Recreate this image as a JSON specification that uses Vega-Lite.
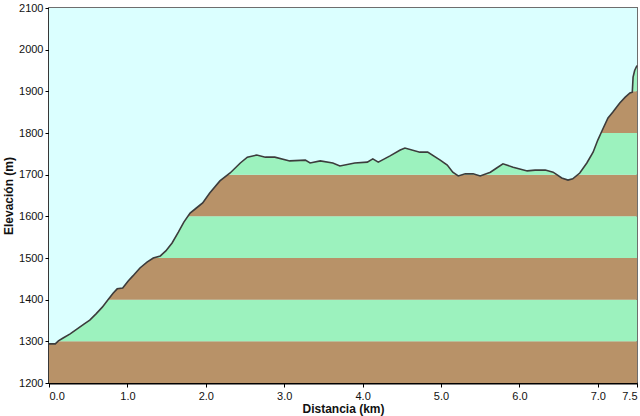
{
  "$schema": "https://vega.github.io/schema/vega-lite/v6.json",
  "autosize": {"type": "none"},
  "width": 588,
  "height": 375,
  "padding": {"left": 49, "top": 8, "right": 3, "bottom": 33},
  "background": "#ffffff",
  "config": {
    "view": {"fill": "#DBFFFF", "stroke": "#6e6e6e", "strokeWidth": 2},
    "font": "Liberation Sans",
    "axis": {
      "domainColor": "#000000", "domainWidth": 2, "tickColor": "#000000", "tickSize": 4,
      "labelFont": "Liberation Sans", "labelFontSize": 11, "labelColor": "#111111",
      "titleFont": "Liberation Sans", "titleFontSize": 12, "titleFontWeight": "bold", "titleColor": "#111111",
      "grid": false
    }
  },
  "datasets": {
    "bands": [
      {"lo": 1200, "hi": 1300, "kind": "brown"},
      {"lo": 1300, "hi": 1400, "kind": "green"},
      {"lo": 1400, "hi": 1500, "kind": "brown"},
      {"lo": 1500, "hi": 1600, "kind": "green"},
      {"lo": 1600, "hi": 1700, "kind": "brown"},
      {"lo": 1700, "hi": 1800, "kind": "green"},
      {"lo": 1800, "hi": 1900, "kind": "brown"},
      {"lo": 1900, "hi": 2000, "kind": "green"},
      {"lo": 2000, "hi": 2100, "kind": "brown"}
    ],
    "profile": [
      {"km": 0.0, "elev": 1294}, {"km": 0.08, "elev": 1294}, {"km": 0.12, "elev": 1301},
      {"km": 0.18, "elev": 1308}, {"km": 0.27, "elev": 1318}, {"km": 0.36, "elev": 1330},
      {"km": 0.45, "elev": 1342}, {"km": 0.52, "elev": 1351}, {"km": 0.6, "elev": 1366},
      {"km": 0.68, "elev": 1382}, {"km": 0.75, "elev": 1399}, {"km": 0.82, "elev": 1416},
      {"km": 0.87, "elev": 1426}, {"km": 0.94, "elev": 1428}, {"km": 1.01, "elev": 1445},
      {"km": 1.07, "elev": 1457}, {"km": 1.16, "elev": 1476}, {"km": 1.25, "elev": 1490},
      {"km": 1.33, "elev": 1500}, {"km": 1.42, "elev": 1505}, {"km": 1.49, "elev": 1517},
      {"km": 1.57, "elev": 1536}, {"km": 1.65, "elev": 1562}, {"km": 1.72, "elev": 1586},
      {"km": 1.8, "elev": 1608}, {"km": 1.88, "elev": 1620}, {"km": 1.96, "elev": 1632},
      {"km": 2.05, "elev": 1656}, {"km": 2.18, "elev": 1685}, {"km": 2.31, "elev": 1704},
      {"km": 2.44, "elev": 1728}, {"km": 2.53, "elev": 1742}, {"km": 2.65, "elev": 1747},
      {"km": 2.76, "elev": 1742}, {"km": 2.88, "elev": 1742}, {"km": 3.07, "elev": 1733},
      {"km": 3.27, "elev": 1735}, {"km": 3.33, "elev": 1728}, {"km": 3.46, "elev": 1733},
      {"km": 3.62, "elev": 1728}, {"km": 3.71, "elev": 1721}, {"km": 3.9, "elev": 1728},
      {"km": 4.06, "elev": 1730}, {"km": 4.13, "elev": 1738}, {"km": 4.2, "elev": 1730},
      {"km": 4.35, "elev": 1745}, {"km": 4.48, "elev": 1759}, {"km": 4.54, "elev": 1764},
      {"km": 4.73, "elev": 1754}, {"km": 4.83, "elev": 1754}, {"km": 4.99, "elev": 1735},
      {"km": 5.08, "elev": 1723}, {"km": 5.15, "elev": 1706}, {"km": 5.22, "elev": 1697},
      {"km": 5.31, "elev": 1702}, {"km": 5.41, "elev": 1702}, {"km": 5.5, "elev": 1697},
      {"km": 5.63, "elev": 1706}, {"km": 5.71, "elev": 1716}, {"km": 5.79, "elev": 1726},
      {"km": 5.92, "elev": 1718}, {"km": 6.1, "elev": 1709}, {"km": 6.2, "elev": 1711},
      {"km": 6.33, "elev": 1711}, {"km": 6.43, "elev": 1706}, {"km": 6.54, "elev": 1692},
      {"km": 6.62, "elev": 1687}, {"km": 6.68, "elev": 1690}, {"km": 6.77, "elev": 1704},
      {"km": 6.86, "elev": 1728}, {"km": 6.94, "elev": 1754}, {"km": 7.0, "elev": 1783},
      {"km": 7.07, "elev": 1812}, {"km": 7.13, "elev": 1836}, {"km": 7.19, "elev": 1850},
      {"km": 7.28, "elev": 1872}, {"km": 7.35, "elev": 1886}, {"km": 7.41, "elev": 1896},
      {"km": 7.44, "elev": 1898}, {"km": 7.45, "elev": 1934}, {"km": 7.47, "elev": 1950},
      {"km": 7.5, "elev": 1962}
    ]
  },
  "layer": [
    {
      "data": {"name": "bands"},
      "mark": {"type": "rect"},
      "encoding": {
        "x": {"datum": 0, "type": "quantitative"},
        "x2": {"datum": 7.5},
        "y": {"field": "lo", "type": "quantitative"},
        "y2": {"field": "hi"},
        "color": {"field": "kind", "type": "nominal", "legend": null,
          "scale": {"domain": ["brown", "green"], "range": ["#B89268", "#9CF2BE"]}}
      }
    },
    {
      "data": {"name": "profile"},
      "mark": {"type": "area", "color": "#DBFFFF", "opacity": 1},
      "encoding": {
        "x": {"field": "km", "type": "quantitative"},
        "y": {"field": "elev", "type": "quantitative"},
        "y2": {"datum": 2100}
      }
    },
    {
      "data": {"name": "profile"},
      "mark": {"type": "line", "color": "#3c3c3c", "strokeWidth": 1.6},
      "encoding": {
        "x": {"field": "km", "type": "quantitative",
          "scale": {"domain": [0, 7.5], "nice": false, "zero": false},
          "axis": {"title": "Distancia  (km)", "values": [0, 1, 2, 3, 4, 5, 6, 7, 7.5], "format": ".1f", "titlePadding": 2, "labelPadding": 3}},
        "y": {"field": "elev", "type": "quantitative",
          "scale": {"domain": [1200, 2100], "nice": false, "zero": false},
          "axis": {"title": "Elevación (m)", "values": [1200, 1300, 1400, 1500, 1600, 1700, 1800, 1900, 2000, 2100], "format": "d", "titlePadding": 3, "labelPadding": 2}}
      }
    }
  ],
  "resolve": {"scale": {"x": "shared", "y": "shared"}}
}
